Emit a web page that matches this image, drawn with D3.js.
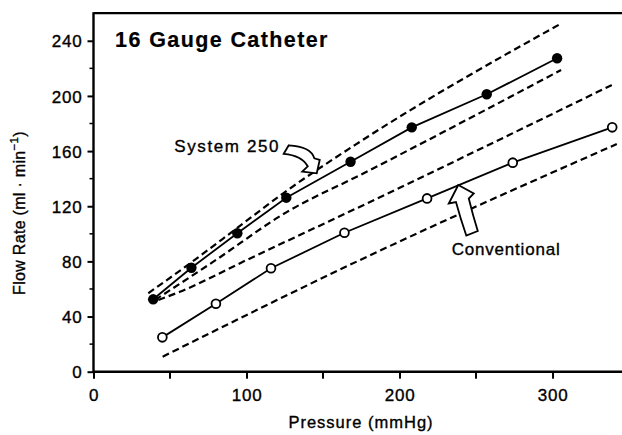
<!DOCTYPE html>
<html><head><meta charset="utf-8">
<script src="https://cdn.jsdelivr.net/npm/d3@7"></script>
<style>
html,body{margin:0;padding:0;background:#fff;}
svg text{font-family:"Liberation Sans",Arial,Helvetica,sans-serif;fill:#000;stroke:#000;stroke-width:0.35px;}
</style></head>
<body>
<svg id="chart" width="622" height="435"></svg>
<script>
// ---- data ----
const titleText = "16 Gauge Catheter";
const xTicks = [0, 100, 200, 300];
const xMinor = [50, 150, 250];
const yTicks = [0, 40, 80, 120, 160, 200, 240];
const yMinor = [20, 60, 100, 140, 180, 220];

const sys250X = [39, 64, 94, 126, 168, 208, 257, 303];
const sys250Y = [52.5, 75.4, 100.4, 126.2, 152.3, 177.2, 201.2, 227.3];
const convX = [45, 80, 116, 164, 218, 274, 339];
const convY = [24.9, 49.3, 75, 100.8, 125.7, 151.6, 177.2];

// confidence bands (dashed)
const sysUpperX = [35.8, 63.1, 93.6, 124, 174.2, 304.9];
const sysUpperY = [56.9, 78.6, 104, 129.4, 166.8, 252.1];
const sysLowerX = [40.2, 78.1, 126.5, 174.2, 305.6];
const sysLowerY = [52.0, 79.6, 115.9, 142.6, 218.8];
const convUpperX = [42.4, 56.5, 100.1, 174.2, 338.7];
const convUpperY = [52.0, 58.0, 81.0, 119.7, 207.9];
const convLowerX = [45.2, 174.2, 342];
const convLowerY = [10.9, 81.0, 165.1];

const labels = ["System 250", "Conventional"];
const labelX = [52.8, 234.1];
const labelY = [159.5, 84.6];
const labelSpacing = [1.6, 0.8];
const arrowTipX = [145.9, 238.4];
const arrowTipY = [143.9, 135.4];

// ---- layout ----
const svg = d3.select("#chart");
const x = d3.scaleLinear().domain([0, 345.4]).range([93.5, 622]);
const y = d3.scaleLinear().domain([0, 260]).range([371.7, 13.2]);

const g = svg.append("g");

// frame: top line
g.append("line").attr("x1", x(0)).attr("x2", 622).attr("y1", y(260)).attr("y2", y(260))
  .attr("stroke", "#000").attr("stroke-width", 2.2);

// axes
const xAxis = d3.axisBottom(x).tickValues(xTicks).tickSize(7).tickPadding(8).tickFormat(d3.format("d"));
const yAxis = d3.axisLeft(y).tickValues(yTicks).tickSize(6).tickPadding(5).tickFormat(d3.format("d"));

const gx = g.append("g").attr("transform", `translate(0,${y(0)})`).call(xAxis);
const gy = g.append("g").attr("transform", `translate(${x(0)},0)`).call(yAxis);
[gx, gy].forEach(a => {
  a.select(".domain").remove();
  a.selectAll(".tick line").attr("stroke", "#000").attr("stroke-width", 2);
  a.selectAll("text").style("font-size", "17px").style("letter-spacing", "0.8px").attr("fill", "#000");
});
gx.selectAll(".tick text").attr("dy", "0.85em");
gy.selectAll(".tick text").attr("dy", "0.36em");

// minor ticks
g.append("g").selectAll("line").data(xMinor).join("line")
  .attr("x1", d => x(d)).attr("x2", d => x(d)).attr("y1", y(0)).attr("y2", y(0) + 7)
  .attr("stroke", "#000").attr("stroke-width", 2);
g.append("g").selectAll("line").data(yMinor).join("line")
  .attr("x1", x(0) - 4).attr("x2", x(0)).attr("y1", d => y(d)).attr("y2", d => y(d))
  .attr("stroke", "#000").attr("stroke-width", 1.5);

// axis lines
g.append("line").attr("x1", x(0)).attr("x2", 622).attr("y1", y(0)).attr("y2", y(0))
  .attr("stroke", "#000").attr("stroke-width", 2.4);
g.append("line").attr("x1", x(0)).attr("x2", x(0)).attr("y1", y(0) + 1).attr("y2", y(260) - 1)
  .attr("stroke", "#000").attr("stroke-width", 2.4);

// axis titles
g.append("text").attr("x", 361).attr("y", 428).attr("text-anchor", "middle")
  .style("font-size", "16.5px").style("letter-spacing", "1px").text("Pressure (mmHg)");
const yl = g.append("text").attr("transform", "translate(25,213) rotate(-90)")
  .attr("text-anchor", "middle").style("font-size", "16px").style("letter-spacing", "0.3px");
yl.append("tspan").text("Flow Rate (ml \u00b7 min");
yl.append("tspan").attr("dy", -7).style("font-size", "11.5px").text("\u22121");
yl.append("tspan").attr("dy", 7).text(")");

// title
g.append("text").attr("x", x(14.1)).attr("y", y(235.7))
  .style("font-size", "21.5px").style("font-weight", "bold").style("letter-spacing", "1.4px")
  .style("stroke-width", "0.2px")
  .text(titleText);

// dashed bands
const bandLine = d3.line().x(d => x(d[0])).y(d => y(d[1])).curve(d3.curveMonotoneX);
const bands = [
  d3.zip(sysUpperX, sysUpperY), d3.zip(sysLowerX, sysLowerY),
  d3.zip(convUpperX, convUpperY), d3.zip(convLowerX, convLowerY)
];
g.append("g").selectAll("path").data(bands).join("path")
  .attr("d", bandLine).attr("fill", "none").attr("stroke", "#000")
  .attr("stroke-width", 2.2).attr("stroke-dasharray", "7,4");

// data lines
const dataLine = d3.line().x(d => x(d[0])).y(d => y(d[1]));
const sysPts = d3.zip(sys250X, sys250Y);
const convPts = d3.zip(convX, convY);
g.append("path").attr("d", dataLine(sysPts)).attr("fill", "none").attr("stroke", "#000").attr("stroke-width", 1.8);
g.append("path").attr("d", dataLine(convPts)).attr("fill", "none").attr("stroke", "#000").attr("stroke-width", 1.8);

g.append("g").selectAll("circle").data(sysPts).join("circle")
  .attr("cx", d => x(d[0])).attr("cy", d => y(d[1])).attr("r", 5.2).attr("fill", "#000");
g.append("g").selectAll("circle").data(convPts).join("circle")
  .attr("cx", d => x(d[0])).attr("cy", d => y(d[1])).attr("r", 4.4)
  .attr("fill", "#fff").attr("stroke", "#000").attr("stroke-width", 1.8);

// annotation arrows (shapes relative to tip)
const arrowShapes = [
  "M-28,-28 Q-6,-27 -2.4,-15 L3,-13.5 L0,0 L-14.5,-1.6 L-9,-7 Q-15,-18 -33,-19.5 Z",
  "M0,0 L15.5,8.5 L10.5,13.5 Q14.5,30 19.5,46 L8,50.5 Q2,33 -2.3,17 L-9.5,18.5 Z"
];
g.append("g").selectAll("path").data(arrowShapes).join("path")
  .attr("transform", (d, i) => `translate(${x(arrowTipX[i])},${y(arrowTipY[i])})`)
  .attr("d", d => d).attr("fill", "#fff").attr("stroke", "#000").attr("stroke-width", 1.8)
  .attr("stroke-linejoin", "miter");

// annotation labels
g.append("g").selectAll("text").data(labels).join("text")
  .attr("x", (d, i) => x(labelX[i])).attr("y", (d, i) => y(labelY[i]))
  .style("font-size", "17px").style("letter-spacing", (d, i) => labelSpacing[i] + "px").text(d => d);
</script>
</body></html>
